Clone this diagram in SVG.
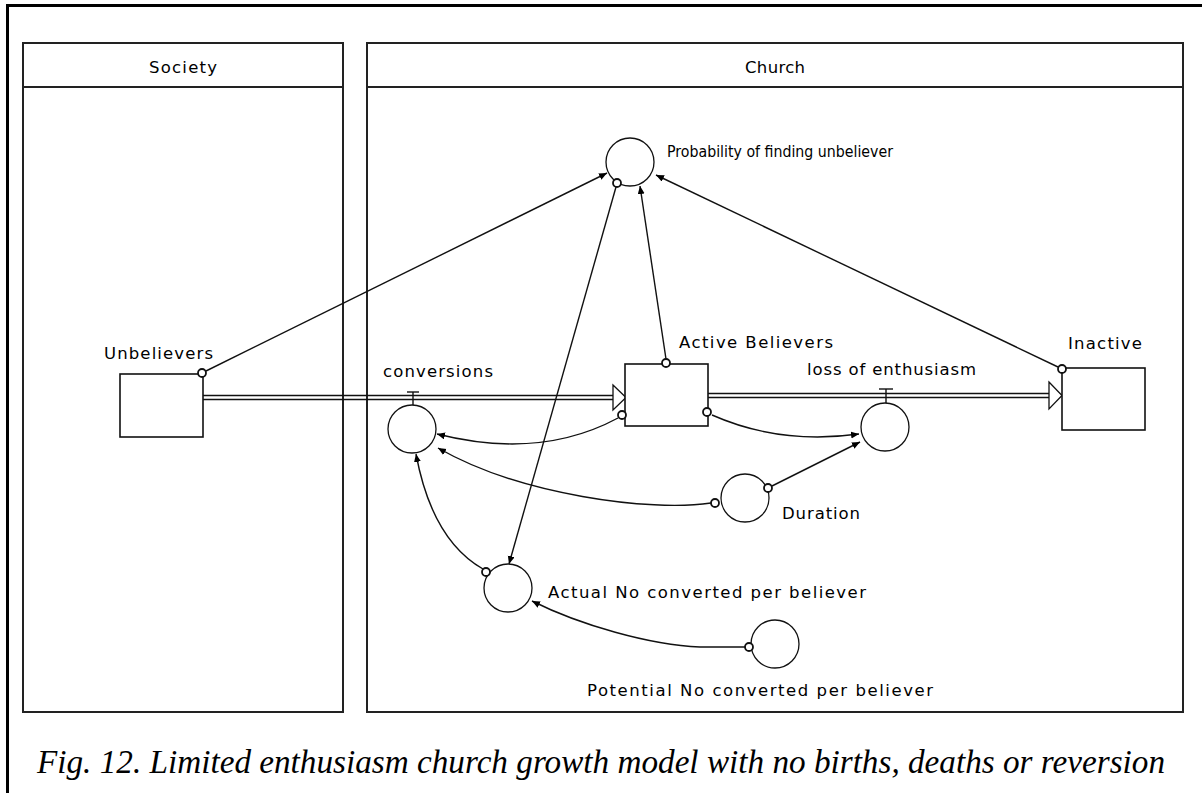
<svg xmlns="http://www.w3.org/2000/svg" width="1202" height="793" viewBox="0 0 1202 793">
<style>
.frame{fill:none;stroke:#000;stroke-width:3}
.sector{fill:none;stroke:#222;stroke-width:2}
.stock{fill:#fff;stroke:#111;stroke-width:1.6}
.aux{fill:#fff;stroke:#111;stroke-width:1.3}
.lbl{font-family:"DejaVu Sans","Liberation Sans",Arial,sans-serif;font-size:16.5px;fill:#000}
.link{fill:none;stroke:#111;stroke-width:1.4;marker-end:url(#ah)}
.pipe{stroke:#111;stroke-width:1.4;fill:none}
.src{fill:#fff;stroke:#111;stroke-width:1.8}
.cap{font-family:"Liberation Serif","Times New Roman",serif;font-style:italic;font-size:34px;fill:#000}
</style>
<defs>
<marker id="ah" markerUnits="userSpaceOnUse" markerWidth="10" markerHeight="8" refX="8" refY="3.5" orient="auto">
<path d="M0,0 L8,3.5 L0,7 Z" fill="#000"/>
</marker>
</defs>
<rect x="0" y="0" width="1202" height="793" fill="#fff"/>
<path class="frame" d="M7.5,800 L7.5,5.5 L1210,5.5"/>

<g id="sector-society">
<rect class="sector" x="23" y="43" width="320" height="669"/>
<line class="sector" x1="23" y1="87" x2="343" y2="87"/>
<text class="lbl" x="183" y="73" text-anchor="middle" textLength="68" lengthAdjust="spacing">Society</text>
</g>
<g id="sector-church">
<rect class="sector" x="367" y="43" width="816" height="669"/>
<line class="sector" x1="367" y1="87" x2="1183" y2="87"/>
<text class="lbl" x="775" y="73" text-anchor="middle" textLength="60" lengthAdjust="spacing">Church</text>
</g>

<g id="flows">
<line class="pipe" x1="203" y1="395.5" x2="614" y2="395.5"/>
<line class="pipe" x1="203" y1="399.5" x2="614" y2="399.5"/>
<polygon points="613,385 626,397.5 613,410 613,385" fill="#fff" stroke="#111" stroke-width="1.3"/>
<line class="pipe" x1="708" y1="393.5" x2="1050" y2="393.5"/>
<line class="pipe" x1="708" y1="397.5" x2="1050" y2="397.5"/>
<polygon points="1049,382 1062,395.5 1049,409 1049,382" fill="#fff" stroke="#111" stroke-width="1.3"/>
</g>

<g id="connectors">
<path class="link" d="M206,371 L607,173"/>
<path class="link" d="M1058,367 L656,175"/>
<path class="link" d="M666,359 L640,186"/>
<path class="link" d="M616,187 L509,564"/>
<path class="link" d="M618,418 Q540,460 437,434"/>
<path class="link" d="M711,503 C650,512 520,495 438,448"/>
<path class="link" d="M772,486 L860,442"/>
<path class="link" d="M712,415 Q780,445 859,434"/>
<path class="link" d="M483,569 Q432,540 416,454"/>
<path class="link" d="M745,647 L700,647 C650,645 580,625 532,601"/>
</g>

<g id="node-unbelievers">
<rect class="stock" x="120" y="374" width="83" height="63"/>
<text class="lbl" x="104" y="359" textLength="109" lengthAdjust="spacing">Unbelievers</text>
</g>
<g id="node-active-believers">
<rect class="stock" x="625" y="364" width="83" height="62"/>
<text class="lbl" x="679" y="348" textLength="154" lengthAdjust="spacing">Active Believers</text>
</g>
<g id="node-inactive">
<rect class="stock" x="1062" y="368" width="83" height="62"/>
<text class="lbl" x="1068" y="349" textLength="74" lengthAdjust="spacing">Inactive</text>
</g>
<g id="node-conversions">
<line x1="407" y1="392" x2="419" y2="392" stroke="#111" stroke-width="1.4"/>
<line x1="413" y1="392" x2="413" y2="405" stroke="#111" stroke-width="1.4"/>
<circle class="aux" cx="412" cy="429" r="24"/>
<text class="lbl" x="383" y="377" textLength="110" lengthAdjust="spacing">conversions</text>
</g>
<g id="node-loss-of-enthusiasm">
<line x1="879" y1="389" x2="893" y2="389" stroke="#111" stroke-width="1.4"/>
<line x1="886" y1="389" x2="886" y2="403" stroke="#111" stroke-width="1.4"/>
<circle class="aux" cx="885" cy="427" r="24"/>
<text class="lbl" x="807" y="375" textLength="169" lengthAdjust="spacing">loss of enthusiasm</text>
</g>
<g id="node-probability">
<circle class="aux" cx="630" cy="162" r="24"/>
<text class="lbl" x="667" y="157" textLength="226" lengthAdjust="spacingAndGlyphs">Probability of finding unbeliever</text>
</g>
<g id="node-duration">
<circle class="aux" cx="745" cy="498" r="24"/>
<text class="lbl" x="782" y="519" textLength="78" lengthAdjust="spacing">Duration</text>
</g>
<g id="node-actual">
<circle class="aux" cx="508" cy="588" r="24"/>
<text class="lbl" x="548" y="598" textLength="318" lengthAdjust="spacing">Actual No converted per believer</text>
</g>
<g id="node-potential">
<circle class="aux" cx="775" cy="644" r="24"/>
<text class="lbl" x="587" y="696" textLength="346" lengthAdjust="spacing">Potential No converted per believer</text>
</g>

<g id="link-origins">
<circle class="src" cx="202" cy="373" r="4"/>
<circle class="src" cx="1062" cy="369" r="4"/>
<circle class="src" cx="666" cy="363" r="4"/>
<circle class="src" cx="617" cy="183" r="4"/>
<circle class="src" cx="622" cy="415" r="4"/>
<circle class="src" cx="707" cy="412" r="4"/>
<circle class="src" cx="715" cy="503" r="4"/>
<circle class="src" cx="768" cy="488" r="4"/>
<circle class="src" cx="486" cy="572" r="4"/>
<circle class="src" cx="749" cy="647" r="4"/>
</g>

<text class="cap" x="601" y="773" text-anchor="middle" textLength="1128" lengthAdjust="spacingAndGlyphs">Fig. 12. Limited enthusiasm church growth model with no births, deaths or reversion</text>
</svg>
